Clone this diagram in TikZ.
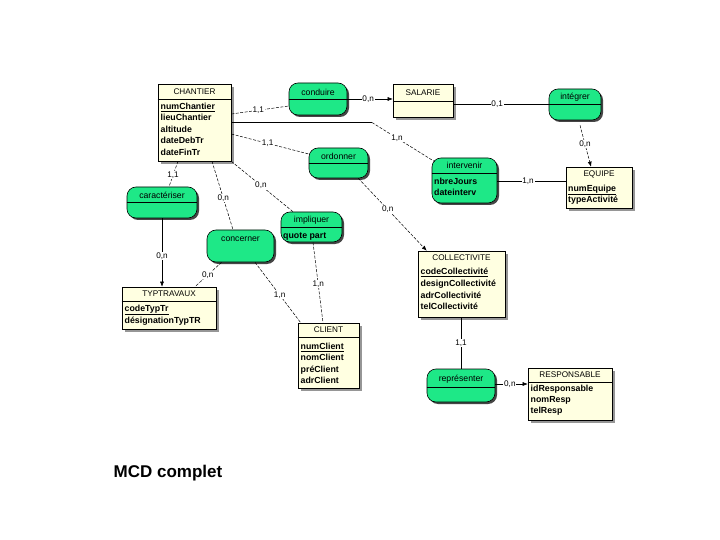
\documentclass[tikz,border=0pt]{standalone}
\usepackage{fontspec}
\setmainfont{Liberation Sans}
\usetikzlibrary{arrows.meta,shadows,calc}
\definecolor{entfill}{RGB}{255,255,225}
\definecolor{relfill}{RGB}{30,232,135}
\definecolor{entshadow}{RGB}{150,150,150}
\definecolor{relshadow}{RGB}{70,70,70}
\begin{document}
\begin{tikzpicture}[x=1pt,y=-1pt,
  ent/.style={draw=black, line width=0.6pt, fill=entfill, rectangle, inner sep=0pt,
    drop shadow={shadow xshift=3pt, shadow yshift=-3pt, fill=entshadow, opacity=1}},
  rel/.style={draw=black, line width=0.6pt, fill=relfill, rectangle, rounded corners=9pt, inner sep=0pt,
    drop shadow={shadow xshift=2pt, shadow yshift=-2pt, fill=relshadow, opacity=1}},
  ttl/.style={font=\fontsize{8.2}{9}\selectfont, inner sep=0pt},
  rname/.style={font=\fontsize{8.7}{10}\selectfont, inner sep=0pt},
  attr/.style={font=\bfseries\fontsize{8.8}{10}\selectfont, inner sep=0pt, anchor=west, text height=6.3pt, text depth=1.8pt},
  card/.style={font=\fontsize{8.2}{9}\selectfont, fill=white, inner sep=0.8pt},
  conn/.style={line width=0.5pt},
  diag/.style={line width=0.5pt, dash pattern=on 3pt off 1.5pt},
  arr/.style={-{Latex[length=5pt,width=4pt]}},
  divl/.style={line width=0.5pt}
]
\fill[white] (0,0) rectangle (720,540);
\useasboundingbox (0,0) rectangle (720,540);

% ---------- entities ----------
\node[ent, minimum width=73pt, minimum height=77pt] (chantier) at (194.5,122.5) {};
\node[ent, minimum width=60pt, minimum height=33pt] (salarie) at (423,100.5) {};
\node[ent, minimum width=66pt, minimum height=41pt] (equipe) at (599,187.5) {};
\node[ent, minimum width=94pt, minimum height=42pt] (typtravaux) at (169,308) {};
\node[ent, minimum width=61pt, minimum height=65pt] (client) at (328.5,355.5) {};
\node[ent, minimum width=87pt, minimum height=66pt] (collectivite) at (461.5,284) {};
\node[ent, minimum width=84pt, minimum height=52pt] (responsable) at (570,394) {};

% ---------- relationships ----------
\node[rel, minimum width=58pt, minimum height=32pt] (conduire) at (318,99) {};
\node[rel, minimum width=52pt, minimum height=31pt] (integrer) at (575,104.5) {};
\node[rel, minimum width=59pt, minimum height=30pt] (ordonner) at (338.5,163) {};
\node[rel, minimum width=65pt, minimum height=45pt] (intervenir) at (464.5,180.5) {};
\node[rel, minimum width=70pt, minimum height=31pt] (caracteriser) at (162,202.5) {};
\node[rel, minimum width=61pt, minimum height=30pt] (impliquer) at (311.5,227) {};
\node[rel, minimum width=67pt, minimum height=32pt] (concerner) at (240.5,246) {};
\node[rel, minimum width=68pt, minimum height=33pt] (representer) at (461,385.5) {};

% ---------- dividers ----------
\draw[divl] (chantier.west |- 0,99) -- (chantier.east |- 0,99);
\draw[divl] (salarie.west |- 0,101) -- (salarie.east |- 0,101);
\draw[divl] (typtravaux.west |- 0,301) -- (typtravaux.east |- 0,301);
\draw[divl] (client.west |- 0,337) -- (client.east |- 0,337);
\draw[divl] (responsable.west |- 0,382) -- (responsable.east |- 0,382);
\draw[divl] (conduire.west) -- (conduire.east);
\draw[divl] (integrer.west) -- (integrer.east);
\draw[divl] (ordonner.west) -- (ordonner.east);
\draw[divl] (caracteriser.west) -- (caracteriser.east);
\draw[divl] (impliquer.west) -- (impliquer.east);
\draw[divl] (representer.west |- 0,387) -- (representer.east |- 0,387);
\draw[divl] (intervenir.west |- 0,173) -- (intervenir.east |- 0,173);

% ---------- titles ----------
\node[ttl] (tchantier) at (194.5,91.5) {CHANTIER};
\node[ttl] (tsalarie) at (423,93) {SALARIE};
\node[ttl] (tequipe) at (599,174) {EQUIPE};
\node[ttl] (ttyp) at (169,294) {TYPTRAVAUX};
\node[ttl] (tclient) at (328.5,330) {CLIENT};
\node[ttl] (tcoll) at (461.5,258) {COLLECTIVITE};
\node[ttl] (tresp) at (570,374.5) {RESPONSABLE};

\node[rname] (rconduire) at (318,92) {conduire};
\node[rname] (rintegrer) at (575,97) {intégrer};
\node[rname] (rordonner) at (338.5,156) {ordonner};
\node[rname] (rintervenir) at (464.5,165.5) {intervenir};
\node[rname] (rcaract) at (162,195) {caractériser};
\node[rname] (rimpliquer) at (311.5,220) {impliquer};
\node[rname] (rconcerner) at (240.5,239) {concerner};
\node[rname] (rrepres) at (461,379) {représenter};

% ---------- attributes ----------
\node[attr] (a1) at (160.5,107) {\underline{numChantier}};
\node[attr] (a2) at (160.5,118.5) {lieuChantier};
\node[attr] (a3) at (160.5,130) {altitude};
\node[attr] (a4) at (160.5,141.5) {dateDebTr};
\node[attr] (a5) at (160.5,153) {dateFinTr};

\node[attr] (b1) at (434,182) {nbreJours};
\node[attr] (b2) at (434,193) {dateinterv};

\node[attr] (c1) at (283,236) {quote part};

\node[attr] (d1) at (568,189) {\underline{numEquipe}};
\node[attr] (d2) at (568,200) {typeActivité};

\node[attr] (e1) at (124.5,309) {\underline{codeTypTr}};
\node[attr] (e2) at (124.5,321) {désignationTypTR};

\node[attr] (f1) at (300.5,347) {\underline{numClient}};
\node[attr] (f2) at (300.5,358.5) {nomClient};
\node[attr] (f3) at (300.5,370) {préClient};
\node[attr] (f4) at (300.5,381) {adrClient};

\node[attr] (g1) at (420.5,272) {\underline{codeCollectivité}};
\node[attr] (g2) at (420.5,284) {designCollectivité};
\node[attr] (g3) at (420.5,296) {adrCollectivité};
\node[attr] (g4) at (420.5,307) {telCollectivité};

\node[attr] (h1) at (530.5,389) {idResponsable};
\node[attr] (h2) at (530.5,400) {nomResp};
\node[attr] (h3) at (530.5,411) {telResp};

% ---------- connectors ----------
\draw[diag] ([yshift=8.5pt]chantier.east) -- node[card,pos=0.47]{1,1} ([yshift=-7pt]conduire.west);
\draw[conn,arr] (conduire.east) -- node[card,pos=0.46]{0,n} (conduire.east -| salarie.west);
\draw[conn] (integrer.west -| salarie.east) -- node[card,pos=0.46]{0,1} (integrer.west);
\draw[diag,arr] ([xshift=5pt,yshift=-5pt]integrer.south) -- node[card,pos=0.45]{0,n} ([xshift=-8pt]equipe.north);
\coordinate (k5) at (372,122.5);
\draw[conn] (chantier.east) -- (k5);
\draw[diag] (k5) -- node[card,pos=0.4]{1,n} ([xshift=3pt,yshift=-4pt]intervenir.north west);
\draw[conn] (intervenir.east |- 0,181) -- node[card,pos=0.45]{1,n} (equipe.west |- 0,181);
\draw[diag] ([yshift=-11.5pt]chantier.east) -- node[card,pos=0.47]{1,1} ([yshift=9pt]ordonner.west);
\draw[diag,arr] ([xshift=-10pt]ordonner.south east) -- node[card,pos=0.43]{0,n} ([xshift=9pt]collectivite.north west);
\draw[diag] ([xshift=-16.5pt]chantier.south) -- node[card,pos=0.55]{1,1} ([xshift=7pt]caracteriser.north);
\draw[conn,arr] (caracteriser.south) -- node[card,pos=0.55]{0,n} (caracteriser.south |- typtravaux.north);
\draw[diag] ([xshift=17.5pt]chantier.south) -- node[card,pos=0.54]{0,n} ([xshift=-7.5pt]concerner.north);
\draw[diag] (chantier.south east) -- node[card,pos=0.48]{0,n} ([xshift=-18.5pt]impliquer.north);
\draw[diag] ([xshift=-19pt]concerner.south) -- node[card,pos=0.52]{0,n} ([xshift=26pt]typtravaux.north);
\draw[diag] ([xshift=14.5pt]concerner.south) -- node[card,pos=0.54]{1,n} ([xshift=3pt]client.north west);
\draw[diag] ([xshift=1.5pt]impliquer.south) -- node[card,pos=0.52]{1,n} ([xshift=-5.5pt]client.north);
\draw[conn] (representer.north |- collectivite.south) -- node[card,pos=0.5]{1,1} (representer.north);
\draw[conn,arr] ([yshift=1.5pt]representer.east) -- node[card,pos=0.45]{0,n} ([yshift=1.5pt]representer.east -| responsable.west);

% ---------- caption ----------
\node[font=\bfseries\fontsize{17}{20}\selectfont, inner sep=0pt] (caption) at (168,473) {MCD complet};
\end{tikzpicture}
\end{document}
